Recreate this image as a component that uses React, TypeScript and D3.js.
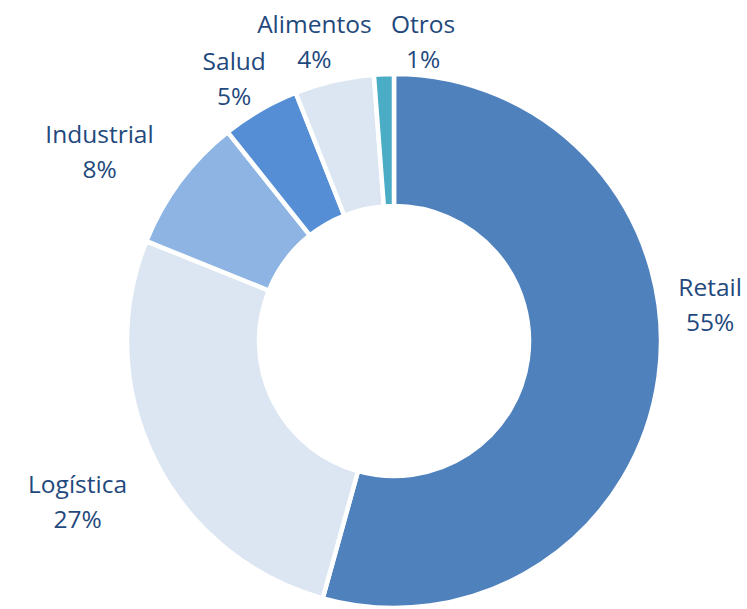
import React from 'react';
import * as d3 from 'd3';

const categories = ['Retail', 'Logística', 'Industrial', 'Salud', 'Alimentos', 'Otros'];
// slice sizes as drawn (share of the ring, %)
const values = [54.3, 26.8, 8.2, 4.7, 4.8, 1.2];
// percentages printed on the data labels
const pctLabels = ['55%', '27%', '8%', '5%', '4%', '1%'];
const colors = ['#4f81bd', '#dce6f2', '#8eb4e3', '#558ed5', '#dce6f2', '#4bacc6'];

// label nudges (px) from the label arc centroid, like Excel's "best fit" placement
const nudges: [number, number][] = [
    [4, -79],
    [-34, 21],
    [-42, -1],
    [-2, 10],
    [-9, 7],
    [41, 15],
];

export default function App() {
    const width = 747;
    const height = 609;
    const cx = 394;
    const cy = 341;
    const outerR = 267;
    const innerR = 135;
    const labelR = 315;
    const lineGap = 35;

    const pie = d3.pie<number>().sort(null).value(d => d);
    const arcs = pie(values);
    const arc = d3.arc<d3.PieArcDatum<number>>().innerRadius(innerR).outerRadius(outerR);
    const labelArc = d3.arc<d3.PieArcDatum<number>>().innerRadius(labelR).outerRadius(labelR);

    return (
        <svg width={width} height={height} style={{ position: 'absolute', left: 0, top: 0 }}>
            <rect width={width} height={height} fill="#fff" />
            <g transform={`translate(${cx},${cy})`}>
                {arcs.map((a, i) => (
                    <path key={i} d={arc(a) || ''} fill={colors[i]} stroke="#fff" strokeWidth={4.5} />
                ))}
                {arcs.map((a, i) => {
                    const [x, y] = labelArc.centroid(a);
                    const lx = x + nudges[i][0];
                    const ly = y + nudges[i][1];
                    return (
                        <text key={'l' + i} textAnchor="middle" fill="#1f497d"
                              fontFamily="'Open Sans', 'Noto Sans', sans-serif" fontSize={24.5}>
                            <tspan x={lx} y={ly - 8.5}>{categories[i]}</tspan>
                            <tspan x={lx} y={ly - 8.5 + lineGap}>{pctLabels[i]}</tspan>
                        </text>
                    );
                })}
            </g>
        </svg>
    );
}
